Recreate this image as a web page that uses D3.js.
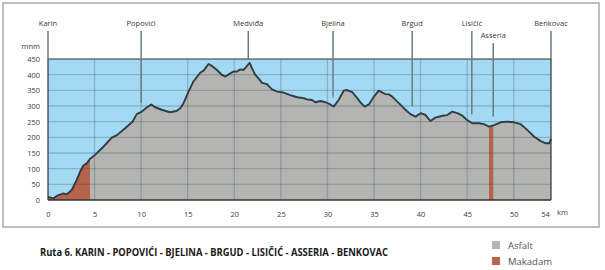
<!DOCTYPE html>
<html>
<head>
<meta charset="utf-8">
<script src="https://cdn.jsdelivr.net/npm/d3@7"></script>
<style>
  body { margin: 0; background: #fff; }
  text { font-family: "Open Sans", sans-serif; fill: #3a3a3a; }
</style>
</head>
<body>
<div id="chart-container"></div>
<script>
// profile: distance (km) and elevation (m)
const distKm = [0, 0.57, 0.93, 1.65, 2.0, 2.55, 3.08, 3.44, 3.8, 4.16, 4.5, 5.05, 5.95, 6.85, 7.4, 8.28, 9.07, 9.53,
  10.07, 10.6, 11.08, 11.5, 12.2, 13.1, 13.8, 14.2, 14.55, 15.09, 15.6, 16.34, 16.7, 17.24, 17.6, 18.14, 18.68,
  19.03, 19.57, 19.93, 20.3, 20.65, 21.0, 21.37, 21.65, 21.9, 22.26, 22.6, 22.98, 23.5, 24.05, 24.6, 25.3, 26.0,
  26.74, 27.45, 27.8, 28.35, 28.7, 29.25, 29.8, 30.3, 30.68, 31.2, 31.75, 32.1, 32.66, 33.2, 33.55, 34.0, 34.45,
  35.0, 35.5, 35.9, 36.2, 36.6, 36.95, 37.5, 38.2, 38.9, 39.46, 40.0, 40.5, 41.07, 41.6, 42.33, 42.87, 43.4,
  43.95, 44.48, 45.0, 45.55, 46.27, 46.8, 47.35, 47.9, 48.6, 49.3, 50.0, 50.75, 51.47, 52.2, 52.9, 53.44, 53.8, 54];
const elevM = [10, 5, 13, 21, 18, 32, 64, 90, 110, 117, 131, 144, 170, 199, 207, 229, 250, 274,
  282, 295, 305, 296, 288, 280, 284, 293, 309, 346, 378, 406, 413, 434, 428, 415, 399,
  394, 404, 410, 410, 417, 415, 428, 438, 420, 399, 388, 374, 370, 353, 346, 343, 335,
  328, 325, 321, 319, 312, 316, 312, 305, 298, 319, 349, 351, 344, 325, 311, 298, 305,
  330, 349, 343, 338, 337, 330, 314, 293, 274, 266, 277, 272, 252, 263, 269, 271, 282,
  277, 269, 255, 245, 245, 242, 234, 239, 248, 250, 248, 242, 223, 202, 188, 181, 181, 195];

// makadam (gravel) sections, km
const makadamFrom = [0, 47.35];
const makadamTo = [4.5, 47.8];

// places
const placeNames = ["Karin", "Popovići", "Medviđa", "Bjelina", "Brgud", "Lisičić", "Asseria", "Benkovac"];
const placeKm = [0, 10, 21.5, 30.6, 39.1, 45.5, 47.8, 54];
const placeRow = [0, 0, 0, 0, 0, 0, 1, 0];

const xTicks = [0, 5, 10, 15, 20, 25, 30, 35, 40, 45, 50, 54];
const yTicks = [0, 50, 100, 150, 200, 250, 300, 350, 400, 450];

const title = "Ruta 6. KARIN - POPOVIĆI - BJELINA - BRGUD - LISIČIĆ - ASSERIA - BENKOVAC";
const legendNames = ["Asfalt", "Makadam"];
const legendColors = ["#b4b5b2", "#b5634a"];

const W = 605, H = 270;
const svg = d3.select('#chart-container').append('svg')
  .attr('width', W).attr('height', H);

// outer frame
svg.append('rect')
  .attr('x', 3).attr('y', 3).attr('width', 596).attr('height', 224)
  .attr('fill', 'none').attr('stroke', '#a8a8a8').attr('stroke-width', 1.5);

const x = d3.scaleLinear().domain([0, 54]).range([48, 551]);
const y = d3.scaleLinear().domain([0, 450]).range([200, 59]);

const profile = distKm.map((d, i) => [d, elevM[i]]);

// sky
svg.append('rect')
  .attr('x', x(0)).attr('y', y(450))
  .attr('width', x(54) - x(0)).attr('height', y(0) - y(450))
  .attr('fill', '#a3d9f3');

const area = d3.area().x(d => x(d[0])).y0(y(0)).y1(d => y(d[1]));
const line = d3.line().x(d => x(d[0])).y(d => y(d[1]));

svg.append('path').datum(profile).attr('d', area).attr('fill', '#b4b5b2');

// gravel sections
const defs = svg.append('defs');
makadamFrom.forEach((f, i) => {
  defs.append('clipPath').attr('id', 'mk' + i)
    .append('rect')
    .attr('x', x(f)).attr('y', y(450))
    .attr('width', x(makadamTo[i]) - x(f)).attr('height', y(0) - y(450));
  svg.append('path').datum(profile).attr('d', area)
    .attr('fill', '#b5634a').attr('clip-path', `url(#mk${i})`);
});

// grid
const grid = svg.append('g').attr('stroke', '#2c4a5a').attr('stroke-opacity', 0.26).attr('stroke-width', 1.3);
grid.selectAll('.hg').data(yTicks.slice(1, -1)).enter().append('line')
  .attr('x1', x(0)).attr('x2', x(54)).attr('y1', d => y(d)).attr('y2', d => y(d));
grid.selectAll('.vg').data(xTicks.slice(1, -1)).enter().append('line')
  .attr('y1', y(0)).attr('y2', y(450)).attr('x1', d => x(d)).attr('x2', d => x(d));

// profile line
svg.append('path').datum(profile).attr('d', line)
  .attr('fill', 'none').attr('stroke', '#2f3d45').attr('stroke-width', 1.9)
  .attr('stroke-linejoin', 'round');

// plot border
svg.append('path')
  .attr('d', `M${x(0)},${y(0)}V${y(450)}H${x(54)}V${y(0)}`)
  .attr('fill', 'none').attr('stroke', '#333').attr('stroke-width', 1.2);
svg.append('line').attr('x1', x(0)).attr('x2', x(54)).attr('y1', y(0)).attr('y2', y(0))
  .attr('stroke', '#333').attr('stroke-width', 1.4);

// place markers
const elevAt = km => {
  const i = d3.bisectLeft(distKm, km);
  if (i <= 0) return elevM[0];
  if (i >= distKm.length) return elevM[elevM.length - 1];
  const t = (km - distKm[i - 1]) / (distKm[i] - distKm[i - 1]);
  return elevM[i - 1] + t * (elevM[i] - elevM[i - 1]);
};
placeNames.forEach((name, i) => {
  const px = x(placeKm[i]);
  const top = placeRow[i] ? 43 : 31;
  const endEl = (i === 0 || i === placeNames.length - 1) ? 450 : Math.min(450, elevAt(placeKm[i]) + 28);
  svg.append('line')
    .attr('x1', px).attr('x2', px).attr('y1', top).attr('y2', y(endEl))
    .attr('stroke', '#6b7b82').attr('stroke-width', 1.5);
  svg.append('text')
    .attr('x', px).attr('y', placeRow[i] ? 38 : 26)
    .attr('text-anchor', 'middle').attr('font-size', 7.5)
    .text(name);
});

// axes
const yAxis = d3.axisLeft(y).tickValues(yTicks).tickSize(0).tickPadding(8);
svg.append('g').attr('transform', `translate(${x(0)},0)`).call(yAxis)
  .call(g => g.select('.domain').remove())
  .selectAll('text').attr('font-size', 7.5).style('font-family', '"Open Sans", sans-serif').attr('fill', '#3a3a3a');

const xAxis = d3.axisBottom(x).tickValues(xTicks).tickSize(0).tickPadding(12);
svg.append('g').attr('transform', `translate(0,${y(0)})`).call(xAxis)
  .call(g => g.select('.domain').remove())
  .selectAll('text').attr('font-size', 7.5).style('font-family', '"Open Sans", sans-serif').attr('fill', '#3a3a3a')
  .attr('dx', d => d === 54 ? -6 : 0);

svg.append('text').attr('x', 40).attr('y', 49).attr('text-anchor', 'end')
  .attr('font-size', 7.5).text('mnm');
svg.append('text').attr('x', 557).attr('y', 215).attr('font-size', 7.5).text('km');

// title
svg.append('text').attr('x', 40).attr('y', 256)
  .attr('font-size', 10.5).attr('font-weight', 'bold')
  .attr('textLength', 348).attr('lengthAdjust', 'spacingAndGlyphs')
  .style('fill', '#1a1a1a').text(title);

// legend
legendNames.forEach((n, i) => {
  svg.append('rect').attr('x', 492).attr('y', 241 + i * 16).attr('width', 8).attr('height', 8)
    .attr('fill', legendColors[i]);
  svg.append('text').attr('x', 508).attr('y', 249 + i * 16).attr('font-size', 9.5).style('fill', '#555').text(n);
});
</script>
</body>
</html>
